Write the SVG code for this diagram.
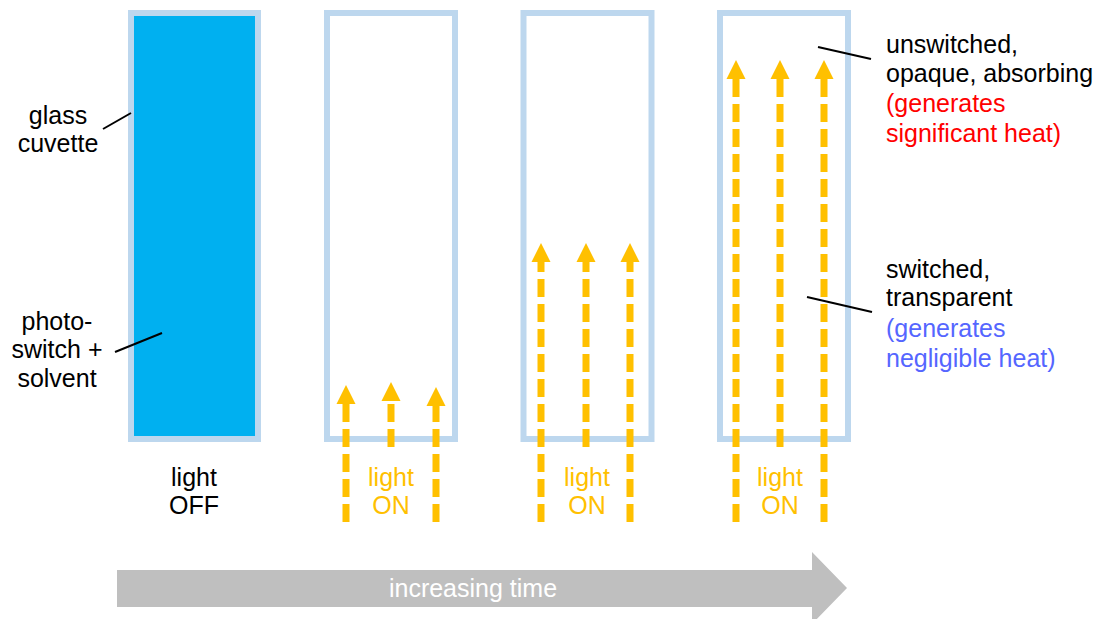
<svg xmlns="http://www.w3.org/2000/svg" width="1099" height="619" viewBox="0 0 1099 619">
<style>
.cuv{fill:#fff;stroke:#BDD7EE;stroke-width:6}
.full{fill:#00B0F0}
.t{font-family:"Liberation Sans",Arial,sans-serif;font-size:25px;fill:#000}
.c{text-anchor:middle}
.on{fill:#FFC000}
.red{fill:#FF0000}
.blue{fill:#5566FF}
.lead{stroke:#000;stroke-width:2;fill:none}
.shaft{stroke:#FFC000;stroke-width:7;stroke-dasharray:18 7;fill:none}
.head{fill:#FFC000}
</style>
<rect width="1099" height="619" fill="#fff"/>
<g id="cuvette1"><rect class="cuv full" x="131" y="13" width="127" height="426"/></g>
<g id="cuvette2"><rect class="cuv" x="327" y="13" width="128" height="426"/></g>
<g id="cuvette3"><rect class="cuv" x="523.5" y="13" width="128" height="426"/></g>
<g id="cuvette4"><rect class="cuv" x="720" y="13" width="128" height="426"/></g>
<g id="connectors">
<line class="lead" x1="103" y1="129" x2="131" y2="113"/>
<line class="lead" x1="115" y1="352" x2="162" y2="333"/>
<line class="lead" x1="818" y1="47" x2="871" y2="59"/>
<line class="lead" x1="807" y1="297" x2="872" y2="312"/>
<g id="arrows2">
<path class="shaft" d="M346 522V403"/><polygon class="head" points="336.5,404 355.5,404 346,385"/>
<path class="shaft" d="M391 447V400"/><polygon class="head" points="381.5,401 400.5,401 391,382"/>
<path class="shaft" d="M436 522V405"/><polygon class="head" points="426.5,406 445.5,406 436,387"/>
</g>
<g id="arrows3">
<path class="shaft" d="M541 522V261"/><polygon class="head" points="531.5,262 550.5,262 541,243"/>
<path class="shaft" d="M586 447V261"/><polygon class="head" points="576.5,262 595.5,262 586,243"/>
<path class="shaft" d="M630 522V261"/><polygon class="head" points="620.5,262 639.5,262 630,243"/>
</g>
<g id="arrows4">
<path class="shaft" d="M736 522V78"/><polygon class="head" points="726.5,79 745.5,79 736,60"/>
<path class="shaft" d="M780 447V78"/><polygon class="head" points="770.5,79 789.5,79 780,60"/>
<path class="shaft" d="M824 522V78"/><polygon class="head" points="814.5,79 833.5,79 824,60"/>
</g>
</g>
<g id="time-arrow">
<polygon fill="#BFBFBF" points="117,570 812,570 812,552 847,588 812,624 812,607 117,607"/>
<text class="t c" x="473" y="597" style="fill:#fff">increasing time</text>
</g>
<g id="labels">
<text class="t c" x="58" y="124">glass</text>
<text class="t c" x="58" y="152">cuvette</text>
<text class="t c" x="57" y="330">photo-</text>
<text class="t c" x="57" y="358">switch +</text>
<text class="t c" x="57" y="387">solvent</text>
<text class="t c" x="194" y="486">light</text>
<text class="t c" x="194" y="514">OFF</text>
<text class="t c on" x="391" y="486">light</text>
<text class="t c on" x="391" y="514">ON</text>
<text class="t c on" x="587" y="486">light</text>
<text class="t c on" x="587" y="514">ON</text>
<text class="t c on" x="780" y="486">light</text>
<text class="t c on" x="780" y="514">ON</text>
<text class="t" x="886" y="53">unswitched,</text>
<text class="t" x="886" y="82">opaque, absorbing</text>
<text class="t red" x="886" y="112">(generates</text>
<text class="t red" x="886" y="142">significant heat)</text>
<text class="t" x="886" y="278">switched,</text>
<text class="t" x="886" y="306">transparent</text>
<text class="t blue" x="886" y="337">(generates</text>
<text class="t blue" x="886" y="367">negligible heat)</text>
</g>
</svg>
